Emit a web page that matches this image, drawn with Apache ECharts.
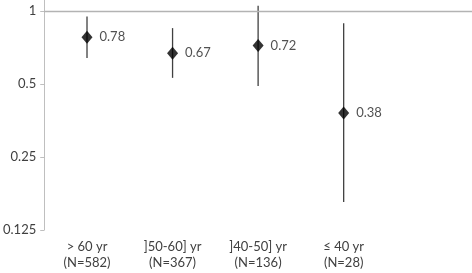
<!DOCTYPE html>
<html>
<head>
<meta charset="utf-8">
<script src="https://cdn.jsdelivr.net/npm/echarts@6/dist/echarts.min.js"></script>
<style>html,body{margin:0;padding:0;background:#fff;}#c{width:472px;height:273px;}</style>
</head>
<body>
<div id="c"></div>
<script>
var categories = ['> 60 yr\n(N=582)', ']50-60] yr\n(N=367)', ']40-50] yr\n(N=136)', '≤ 40 yr\n(N=28)'];
var estimates = [0.78, 0.67, 0.72, 0.38];
var lower = [0.64, 0.53, 0.49, 0.163];
var upper = [0.95, 0.85, 1.05, 0.89];
var yTicks = [0.125, 0.25, 0.5, 1];

var FONT = 'Lato';
var TXT = '#404040';

var pointData = estimates.map(function (v, i) { return [i, v]; });
var barData = estimates.map(function (v, i) { return [i, lower[i], upper[i]]; });

var chart = echarts.init(document.getElementById('c'), null, { renderer: 'canvas' });
chart.setOption({
  animation: false,
  backgroundColor: '#fff',
  grid: { left: 44, right: 0, top: 0, bottom: 43 },
  xAxis: {
    type: 'value',
    min: -0.5,
    max: categories.length + 0.5,
    axisLine: { show: false, onZero: false },
    axisTick: { show: false },
    splitLine: { show: false },
    axisLabel: {
      customValues: categories.map(function (c, i) { return i; }),
      formatter: function (v) { return categories[Math.round(v)] || ''; },
      color: TXT, fontFamily: FONT, fontSize: 13, lineHeight: 16, margin: 9
    }
  },
  yAxis: {
    type: 'log',
    logBase: 2,
    min: 0.125,
    max: 1.11,
    axisLine: { show: true, onZero: false, lineStyle: { color: '#bfbfbf', width: 1 } },
    axisTick: { show: true, length: 4, lineStyle: { color: '#bfbfbf' } },
    splitLine: { show: false },
    axisLabel: {
      showMaxLabel: false,
      formatter: function (v) {
        for (var k = 0; k < yTicks.length; k++) {
          if (Math.abs(v - yTicks[k]) < 1e-6) return String(yTicks[k]);
        }
        return '';
      },
      color: TXT, fontFamily: FONT, fontSize: 13, margin: 8
    }
  },
  series: [
    {
      type: 'custom',
      data: barData,
      clip: false,
      renderItem: function (params, api) {
        var p1 = api.coord([api.value(0), api.value(1)]);
        var p2 = api.coord([api.value(0), api.value(2)]);
        return {
          type: 'line',
          shape: { x1: p1[0], y1: p1[1], x2: p2[0], y2: p2[1] },
          style: { stroke: '#404040', lineWidth: 1.3 }
        };
      },
      markLine: {
        silent: true,
        symbol: ['none', 'none'],
        label: { show: false },
        lineStyle: { color: '#b3b3b3', width: 1.3, type: 'solid' },
        data: [{ yAxis: 1 }]
      },
      z: 2
    },
    {
      type: 'scatter',
      data: pointData,
      symbol: 'diamond',
      symbolSize: [11, 13],
      itemStyle: { color: '#000' },
      label: {
        show: true,
        position: 'right',
        distance: 7,
        formatter: function (p) { return p.value[1].toFixed(2); },
        color: '#262626', fontFamily: FONT, fontSize: 13
      },
      z: 3
    }
  ]
});
</script>
</body>
</html>
